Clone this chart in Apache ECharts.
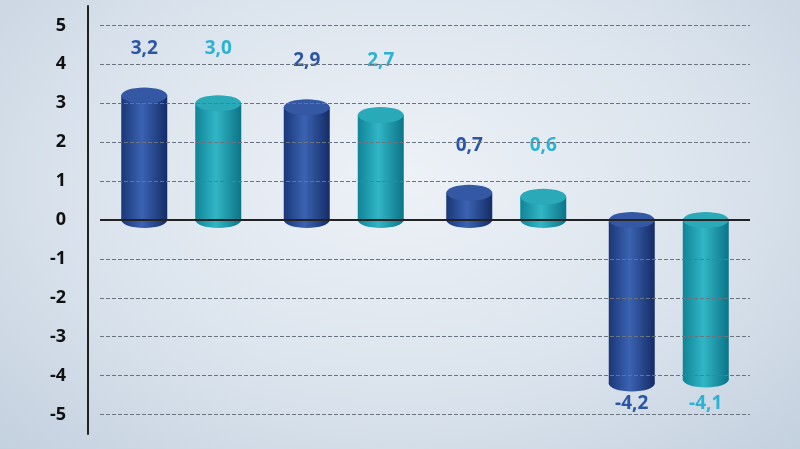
<!DOCTYPE html>
<html><head><meta charset="utf-8">
<script src="https://cdn.jsdelivr.net/npm/echarts@6/dist/echarts.min.js"></script>
<style>html,body{margin:0;padding:0}#main{width:800px;height:449px;background:radial-gradient(ellipse at 50% 40%,#eef2f7 0%,#d9e2ec 60%,#c3d0de 100%)}</style>
</head><body><div id="main"></div>
<script>
var years = ['2006', '2007', '2008', '2009'];
var seriesA = [3.2, 2.9, 0.7, -4.2];
var seriesB = [3.0, 2.7, 0.6, -4.1];
var gridTicks = [-5, -4, -3, -2, -1, 1, 2, 3, 4, 5];

var styles = [
  {off: -37, body: ['#1a3778', '#3b63b2', '#142c66'], cap: '#3458a4', label: '#2b56a8'},
  {off: 37, body: ['#0f8497', '#31b6c5', '#0b7487'], cap: '#2aa9b9', label: '#2ab3d2'}
];

function cylinder(s) {
  return function (params, api) {
    var v = api.value(1);
    var ref = api.value(2);
    var c = api.coord([api.value(0), 0]);
    var e = api.coord([api.value(0), v]);
    var r = api.coord([api.value(0), ref]);
    var w = 46, ry = 8, cx = c[0] + s.off;
    var top = Math.min(c[1], e[1]), bot = Math.max(c[1], e[1]);
    var grad = new echarts.graphic.LinearGradient(0, 0, 1, 0, [
      {offset: 0, color: s.body[0]}, {offset: 0.45, color: s.body[1]}, {offset: 1, color: s.body[2]}]);
    var txt = v.toFixed(1).replace('.', ',');
    var ly = v >= 0 ? r[1] - 47 : r[1] + 20;
    return {type: 'group', children: [
      {type: 'ellipse', shape: {cx: cx, cy: bot, rx: w / 2, ry: ry}, style: {fill: grad}},
      {type: 'rect', shape: {x: cx - w / 2, y: top, width: w, height: bot - top}, style: {fill: grad}},
      {type: 'ellipse', shape: {cx: cx, cy: top, rx: w / 2, ry: ry}, style: {fill: s.cap}},
      {type: 'text', style: {text: txt, x: cx, y: ly, align: 'center', verticalAlign: 'middle',
        fill: s.label, font: 'bold 19px "Open Sans", sans-serif'}}
    ]};
  };
}

var chart = echarts.init(document.getElementById('main'));
chart.setOption({
  animation: false,
  grid: {left: 100, right: 50, top: 6, bottom: 15, containLabel: false, outerBoundsMode: 'none'},
  xAxis: {type: 'category', data: years,
    axisLine: {onZero: false, show: false}, axisTick: {show: false},
    axisLabel: {color: '#222', fontSize: 20, margin: 16, fontFamily: 'Open Sans'}},
  yAxis: {type: 'value', min: -5.5, max: 5.5, interval: 0.5, offset: 12,
    splitLine: {show: false},
    axisLine: {show: true, lineStyle: {color: '#222', width: 2}},
    axisTick: {show: false},
    axisLabel: {color: '#111', fontSize: 18, fontWeight: 'bold', margin: 22, fontFamily: 'Open Sans',
      formatter: function (v) { return Math.abs(v) > 5 || v % 1 !== 0 ? '' : String(v); }}},
  series: [
    {type: 'custom', renderItem: cylinder(styles[0]), data: seriesA.map(function (v, i) { return [i, v, seriesA[i]]; }), z: 3,
      markLine: {silent: true, symbol: 'none', label: {show: false},
        lineStyle: {color: '#6a7480', type: 'dashed', width: 1},
        data: gridTicks.map(function (t) { return {yAxis: t}; })}},
    {type: 'custom', renderItem: cylinder(styles[1]), data: seriesB.map(function (v, i) { return [i, v, seriesA[i]]; }), z: 3,
      markLine: {silent: true, symbol: 'none', label: {show: false},
        lineStyle: {color: '#222', type: 'solid', width: 2}, data: [{yAxis: 0}]}}
  ]
});
</script></body></html>
